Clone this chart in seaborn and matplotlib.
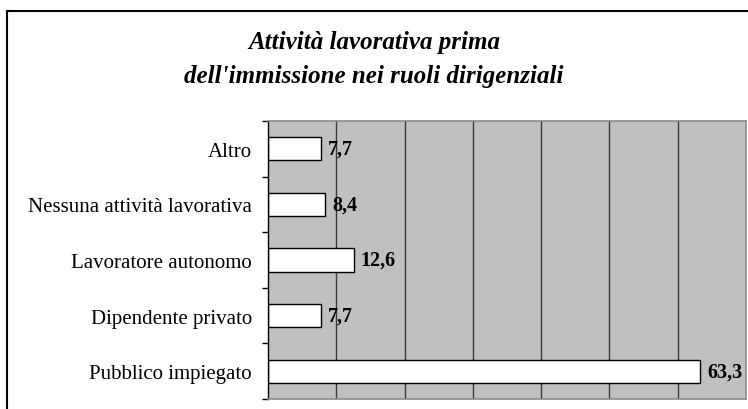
import matplotlib
matplotlib.use("Agg")
import matplotlib.pyplot as plt
import matplotlib.patches as patches
import numpy as np
import pandas as pd
import seaborn as sns

# Data
categories = ["Altro", "Nessuna attività lavorativa", "Lavoratore autonomo",
              "Dipendente privato", "Pubblico impiegato"]
values = [7.7, 8.4, 12.6, 7.7, 63.3]
value_labels = ["7,7", "8,4", "12,6", "7,7", "63,3"]

df = pd.DataFrame({"categoria": categories, "valore": values})

sns.set_theme(style="white")
plt.rcParams["font.family"] = ["Liberation Serif", "DejaVu Serif"]
plt.rcParams["text.color"] = "black"

fig = plt.figure(figsize=(7.48, 4.10), dpi=100)
ax = fig.add_axes([268 / 748, 10 / 410, 478 / 748, 278 / 410])

sns.barplot(data=df, x="valore", y="categoria", order=categories, orient="h",
            color="white", edgecolor="black", linewidth=1.0, width=0.42,
            saturation=1, ax=ax)

ax.set_facecolor("#c0c0c0")
ax.set_xlim(0, 70)
ax.set_ylim(4.5, -0.5)
ax.set_xticks(np.arange(10, 70, 10))
ax.xaxis.grid(True, color="#3a3a3a", linewidth=1.0)
ax.set_axisbelow(True)
ax.tick_params(axis="x", length=0, labelbottom=False)
ax.set_xlabel("")
ax.set_ylabel("")

# category labels, ticks at boundaries
ax.tick_params(axis="y", which="major", left=True, length=0, pad=11.5,
               labelsize=15, labelcolor="black")
ax.set_yticks(np.arange(-0.5, 5, 1), minor=True)
ax.tick_params(axis="y", which="minor", left=True, length=4, width=1,
               color="black", direction="out")

for side in ["top", "right", "bottom"]:
    ax.spines[side].set_color("#8a8a8a")
    ax.spines[side].set_linewidth(1.2)
ax.spines["left"].set_color("black")
ax.spines["left"].set_linewidth(1.0)

for i, (v, lab) in enumerate(zip(values, value_labels)):
    ax.text(v + 1.0, i, lab, va="center", ha="left", fontsize=14.5,
            fontweight="bold", color="black")

fig.text(0.5, 1 - 43 / 410, "Attività lavorativa prima", ha="center", va="center",
         fontsize=18, style="italic", fontweight="bold", color="black")
fig.text(0.5, 1 - 77 / 410, "dell'immissione nei ruoli dirigenziali", ha="center",
         va="center", fontsize=18, style="italic", fontweight="bold", color="black")

# outer frame
fig.patches.append(patches.Rectangle((7 / 748, -0.2), 1.0, (410 - 12) / 410 + 0.2,
                                     transform=fig.transFigure, fill=False,
                                     edgecolor="black", linewidth=1.5))

fig.savefig("out.png", dpi=100)
